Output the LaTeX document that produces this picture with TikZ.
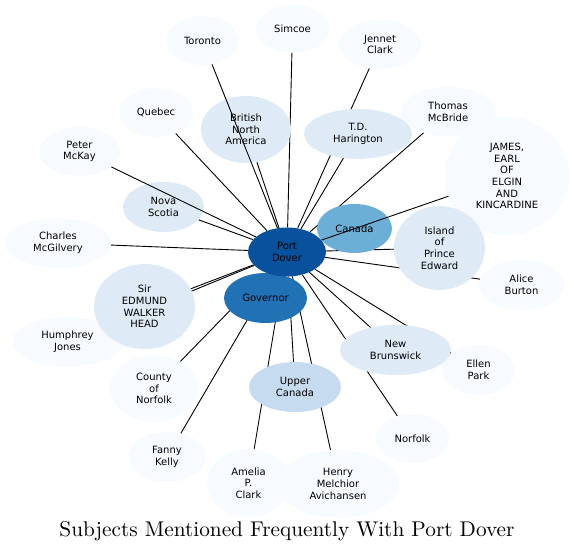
\documentclass[tikz,border=0pt]{standalone}
\usepackage{fontspec}
\usepackage{xcolor}
\usetikzlibrary{shapes,backgrounds}
\newfontfamily\labelfont{DejaVu Sans}
\newfontfamily\titlefont{lmroman10-regular.otf}
\definecolor{pdblue}{HTML}{08519C}
\definecolor{govblue}{HTML}{2171B5}
\definecolor{canblue}{HTML}{6BAED6}
\definecolor{upblue}{HTML}{C6DBEF}
\definecolor{midblue}{HTML}{DEEBF7}
\definecolor{pale}{HTML}{F7FBFF}
\tikzstyle{topic}=[ellipse,draw=none,inner sep=0pt,align=center,font=\labelfont\fontsize{10}{11.7}\selectfont]
\tikzstyle{link}=[draw=black,line width=0.9pt]
\tikzstyle{heading}=[font=\titlefont\fontsize{21.3}{25}\selectfont]

\begin{document}
\begin{tikzpicture}[x=1pt,y=-1pt]
  \useasboundingbox (0,0) rectangle (574,553);

  \foreach \name/\x/\y/\w/\h/\col/\label in {
      toronto/202.5/40.5/73/49/pale/Toronto, simcoe/292.5/29/73/48/pale/Simcoe,
      jennet/380/44.5/82/49/pale/{Jennet\\Clark}, quebec/156/112.5/74/49/pale/Quebec,
      mckay/79.5/151.5/81/49/pale/{Peter\\McKay}, mcbride/448/111.5/95/49/pale/{Thomas\\McBride},
      elgin/507/176/124/118/pale/{JAMES,\\EARL\\OF\\ELGIN\\AND\\KINCARDINE},
      mcgilvery/58/243/106/50/pale/{Charles\\McGilvery}, jones/67.5/342/111/50/pale/{Humphrey\\Jones},
      county/154/388.5/88/67/pale/{County\\of\\Norfolk}, kelly/167/457/78/50/pale/{Fanny\\Kelly},
      amelia/248.5/483/83/68/pale/{Amelia\\P.\\Clark}, henry/338/484/122/68/pale/{Henry\\Melchior\\Avichansen},
      norfolk/412.5/438.5/73/49/pale/Norfolk, ellen/478.5/370/73/50/pale/{Ellen\\Park},
      alice/521.5/285/85/50/pale/{Alice\\Burton},
      tdh/358/134/108/50/midblue/{T.D.\\Harington}, bna/246/129.5/90/67/midblue/{British\\North\\America},
      nova/163.5/207/81/50/midblue/{Nova\\Scotia}, head/144.5/306.5/101/85/midblue/{Sir\\EDMUND\\WALKER\\HEAD},
      island/439.5/248/91/84/midblue/{Island\\of\\Prince\\Edward}, nbr/395.5/350/111/50/midblue/{New\\Brunswick},
      upper/295/387/92/50/upblue/{Upper\\Canada}, canada/354.5/228.5/75/49/canblue/Canada,
      gov/265.5/298/83/50/govblue/Governor, pd/287/252/78/49/pdblue/{Port\\Dover}}
    \node[topic,fill=\col,minimum width=\w pt,minimum height=\h pt] (\name) at (\x,\y) {\label};

  % links hidden by the nodes they cross
  \begin{scope}[on background layer]
    \foreach \dest in {simcoe,jennet,tdh,mcbride,canada,island,alice,nbr,ellen,norfolk,henry,upper,
                       amelia,kelly,county,gov,head,jones,mcgilvery,nova,quebec,bna}
      \draw[link] (pd) -- (\dest);
  \end{scope}
  \foreach \dest in {toronto,mckay,elgin}
    \draw[link] (pd) -- (\dest);

  \node[heading] (title) at (287,531) {Subjects Mentioned Frequently With Port Dover};
\end{tikzpicture}
\end{document}
